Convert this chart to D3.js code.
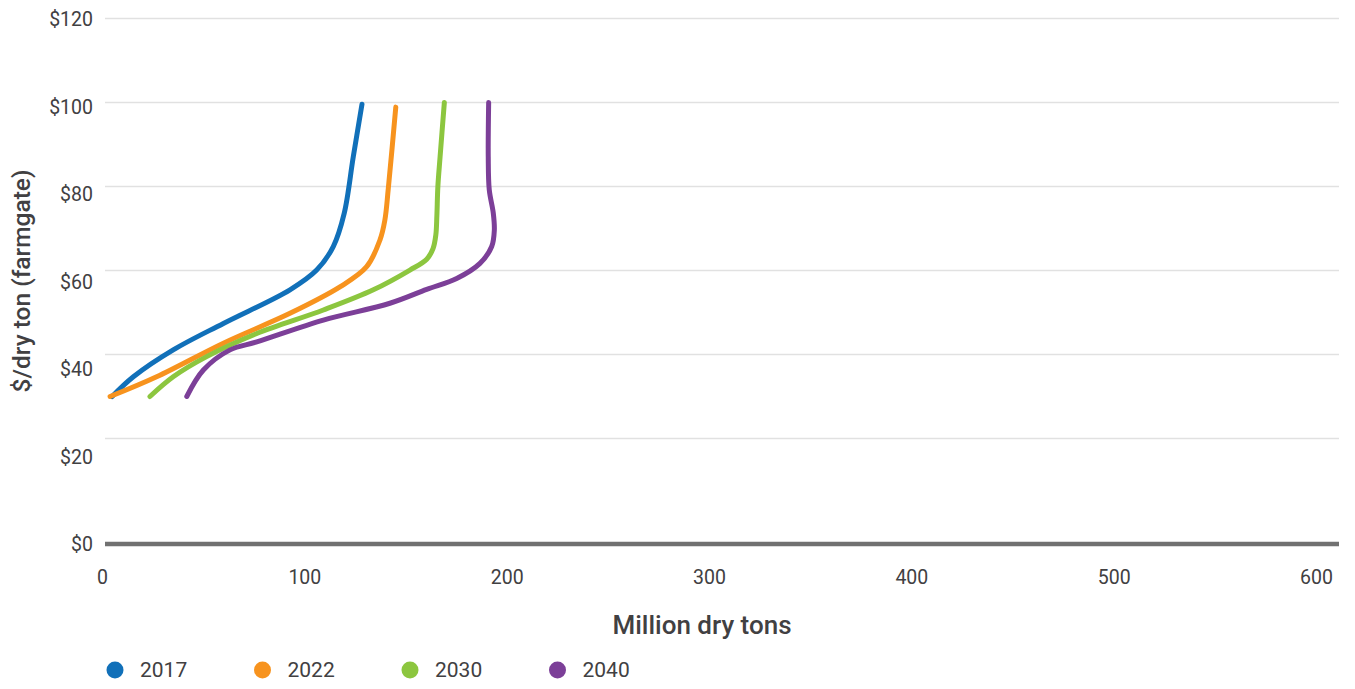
<!DOCTYPE html>
<html>
<head>
<meta charset="utf-8">
<script src="https://cdn.jsdelivr.net/npm/d3@7"></script>
<style>
  html, body { margin: 0; padding: 0; background: #ffffff; }
  svg { display: block; font-family: Roboto, "Open Sans", sans-serif; }
</style>
</head>
<body>
<svg id="chart" width="1355" height="689"></svg>
<script>
// ---- data ----
const seriesNames = ["2017", "2022", "2030", "2040"];
const seriesColors = ["#1170b9", "#f7931e", "#8cc63f", "#7c3f98"];
// [million dry tons, $/dry ton]
const s2017 = [[5,30],[15.5,34.7],[35.2,41.1],[60,47.4],[92.9,55.4],[106.1,60.1],[114.3,65.7],[119.7,73.6],[124.2,87.1],[128.5,99.6]];
const s2022 = [[4,30],[27,34.7],[60,42.7],[92.9,49.8],[117.6,56.1],[130.8,60.9],[137.4,67.3],[139.8,72.0],[141.5,79.5],[145.2,98.9]];
const s2030 = [[23.7,30],[35.2,34.7],[51.7,39.5],[76.5,45],[109.4,50.6],[134.1,55.4],[152.2,60.1],[160.5,62.7],[163.6,65.2],[165,68.5],[165.5,73],[166,80],[167.1,87.1],[169.2,100]];
const s2040 = [[41.9,30],[50.1,36.3],[63.3,41.1],[76.5,43],[109.4,48.2],[142.3,52.2],[160.5,55.5],[175.3,58.1],[186.8,61.7],[192.6,65.7],[193.9,69.6],[193.4,73.6],[191.4,79.2],[190.9,87.1],[191.1,100]];
const seriesData = [s2017, s2022, s2030, s2040];
const xTicks = [0, 100, 200, 300, 400, 500, 600];
const yTicks = [0, 20, 40, 60, 80, 100, 120];

// ---- layout ----
const svg = d3.select("#chart");
const plotLeft = 105, plotRight = 1339;
const x = d3.scaleLinear().domain([0, 600]).range([102, 1316]);
const y = d3.scaleLinear().domain([0, 120]).range([522.5, 18.5]);       // data + gridlines
const yLab = d3.scaleLinear().domain([0, 120]).range([544, 19]);        // tick label placement
const textColor = "#414042";
const fontFam = "Roboto, 'Open Sans', sans-serif";

// gridlines
svg.append("g").selectAll("line")
  .data(yTicks.filter(d => d > 0))
  .join("line")
  .attr("x1", plotLeft).attr("x2", plotRight)
  .attr("y1", d => y(d)).attr("y2", d => y(d))
  .attr("stroke", "#e1e1e1").attr("stroke-width", 1.6);

// baseline
svg.append("line")
  .attr("x1", plotLeft).attr("x2", plotRight)
  .attr("y1", yLab(0)).attr("y2", yLab(0))
  .attr("stroke", "#717171").attr("stroke-width", 4.5);

// y axis labels
const yAxis = svg.append("g")
  .attr("transform", "translate(93,0)")
  .call(d3.axisLeft(yLab).tickValues(yTicks).tickFormat(d => "$" + d).tickSize(0).tickPadding(0));
yAxis.select(".domain").remove();
yAxis.selectAll("text")
  .attr("font-family", fontFam)
  .attr("font-size", 19.5).attr("fill", textColor).attr("dy", "0.35em");

// x axis labels
const xAxis = svg.append("g")
  .attr("transform", `translate(0,${yLab(0)})`)
  .call(d3.axisBottom(x).tickValues(xTicks).tickFormat(d3.format("d")).tickSize(0).tickPadding(0));
xAxis.select(".domain").remove();
xAxis.selectAll("text")
  .attr("font-family", fontFam)
  .attr("font-size", 19.5).attr("fill", textColor)
  .attr("y", 33).attr("dy", "0.35em");

// axis titles
svg.append("text")
  .attr("x", 702).attr("y", 625).attr("dy", "0.35em")
  .attr("text-anchor", "middle")
  .attr("font-family", fontFam)
  .attr("font-size", 26).attr("font-weight", 500).attr("fill", textColor)
  .text("Million dry tons");

svg.append("text")
  .attr("transform", "translate(21,281) rotate(-90)")
  .attr("dy", "0.35em")
  .attr("text-anchor", "middle")
  .attr("font-family", fontFam)
  .attr("font-size", 24.5).attr("font-weight", 500).attr("fill", textColor)
  .text("$/dry ton (farmgate)");

// curves
const line = d3.line()
  .x(d => x(d[0])).y(d => y(d[1]))
  .curve(d3.curveCatmullRom.alpha(0.5));

svg.append("g").selectAll("path")
  .data(seriesData)
  .join("path")
  .attr("d", line)
  .attr("fill", "none")
  .attr("stroke", (d, i) => seriesColors[i])
  .attr("stroke-width", 5)
  .attr("stroke-linecap", "round")
  .attr("stroke-linejoin", "round");

// legend
const legend = svg.append("g").attr("transform", "translate(115,670)");
const item = legend.selectAll("g")
  .data(seriesNames)
  .join("g")
  .attr("transform", (d, i) => `translate(${i * 147.5},0)`);
item.append("circle").attr("r", 8.5).attr("fill", (d, i) => seriesColors[i]);
item.append("text")
  .attr("x", 25).attr("dy", "0.35em")
  .attr("font-family", fontFam)
  .attr("font-size", 21).attr("fill", textColor)
  .text(d => d);
</script>
</body>
</html>
